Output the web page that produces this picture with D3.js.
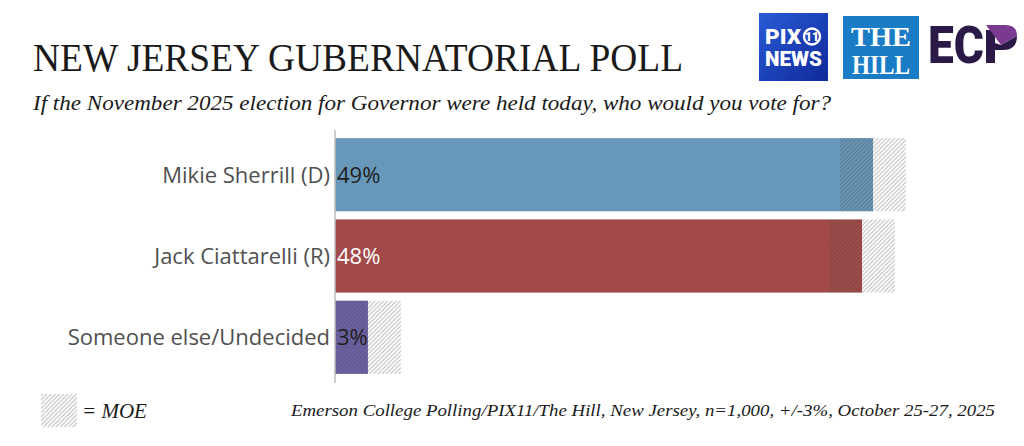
<!DOCTYPE html>
<html>
<head>
<meta charset="utf-8">
<script src="https://cdn.jsdelivr.net/npm/d3@7"></script>
<style>
  html, body { margin: 0; padding: 0; background: #fff; }
  svg { display: block; }
</style>
</head>
<body>
<svg id="chart" width="1024" height="446"></svg>
<script>
const categories = ["Mikie Sherrill (D)", "Jack Ciattarelli (R)", "Someone else/Undecided"];
const values = [49, 48, 3];
const valueLabels = ["49%", "48%", "3%"];
const moe = 3;
const barColors = ["#6898b9", "#a24a4a", "#6c62a6"];
const labelColors = ["#1e1e1e", "#ffffff", "#1e1e1e"];

const title = "NEW JERSEY GUBERNATORIAL POLL";
const subtitle = "If the November 2025 election for Governor were held today, who would you vote for?";
const source = "Emerson College Polling/PIX11/The Hill, New Jersey, n=1,000, +/-3%, October 25-27, 2025";

const svg = d3.select("#chart");
const defs = svg.append("defs");

const pat = defs.append("pattern")
  .attr("id", "hatch").attr("patternUnits", "userSpaceOnUse")
  .attr("width", 4.2).attr("height", 4.2);
pat.append("path")
  .attr("d", "M-1,1 l2,-2 M0,4.2 l4.2,-4.2 M3.2,5.2 l2,-2")
  .attr("stroke", "rgba(60,60,60,0.38)").attr("stroke-width", 1);

const grad = defs.append("linearGradient").attr("id", "pixgrad")
  .attr("x1", 0).attr("y1", 0).attr("x2", 1).attr("y2", 1);
grad.append("stop").attr("offset", "0%").attr("stop-color", "#2a5bd6");
grad.append("stop").attr("offset", "100%").attr("stop-color", "#0f2a9a");

const x = d3.scaleLinear().domain([0, 50]).range([335, 884]);
const y = d3.scaleBand().domain(categories).range([130, 382]).paddingInner(0.1).paddingOuter(0.1);

// Title and subtitle
svg.append("text").attr("x", 33).attr("y", 71)
  .attr("font-family", "Liberation Serif, serif").attr("font-size", 40)
  .attr("fill", "#1a1a1a").attr("textLength", 650).attr("lengthAdjust", "spacingAndGlyphs")
  .text(title);
svg.append("text").attr("x", 33).attr("y", 110)
  .attr("font-family", "Liberation Serif, serif").attr("font-style", "italic").attr("font-size", 22)
  .attr("fill", "#1a1a1a").attr("textLength", 798).attr("lengthAdjust", "spacingAndGlyphs")
  .text(subtitle);

// Bars
const g = svg.append("g");
g.selectAll("rect.bar").data(values).join("rect")
  .attr("class", "bar")
  .attr("x", x(0))
  .attr("y", (d, i) => y(categories[i]))
  .attr("width", d => x(d) - x(0))
  .attr("height", y.bandwidth())
  .attr("fill", (d, i) => barColors[i]);

g.selectAll("rect.moe").data(values).join("rect")
  .attr("class", "moe")
  .attr("x", d => x(Math.max(0, d - moe)))
  .attr("y", (d, i) => y(categories[i]))
  .attr("width", d => x(d + moe) - x(Math.max(0, d - moe)))
  .attr("height", y.bandwidth())
  .attr("fill", "url(#hatch)");

// Axis line
svg.append("line").attr("x1", x(0)).attr("x2", x(0)).attr("y1", 130).attr("y2", 383)
  .attr("stroke", "#bdbdbd").attr("stroke-width", 1.5);

// Category labels
g.selectAll("text.cat").data(categories).join("text")
  .attr("class", "cat")
  .attr("x", x(0) - 5)
  .attr("y", d => y(d) + y.bandwidth() / 2)
  .attr("dy", "0.36em")
  .attr("text-anchor", "end")
  .attr("font-family", "Open Sans, sans-serif").attr("font-weight", 400).attr("font-size", 22)
  .attr("fill", "#505050")
  .text(d => d);

// Value labels
g.selectAll("text.val").data(values).join("text")
  .attr("class", "val")
  .attr("x", x(0) + 2)
  .attr("y", (d, i) => y(categories[i]) + y.bandwidth() / 2)
  .attr("dy", "0.36em")
  .attr("font-family", "Open Sans, sans-serif").attr("font-weight", 400).attr("font-size", 22)
  .attr("fill", (d, i) => labelColors[i])
  .text((d, i) => valueLabels[i]);

// Legend
svg.append("rect").attr("x", 41).attr("y", 394).attr("width", 36).attr("height", 33)
  .attr("fill", "url(#hatch)");
svg.append("text").attr("x", 82).attr("y", 418)
  .attr("font-family", "Liberation Serif, serif").attr("font-style", "italic").attr("font-size", 21)
  .attr("fill", "#1a1a1a").text("= MOE");

// Source
svg.append("text").attr("x", 291).attr("y", 416)
  .attr("font-family", "Liberation Serif, serif").attr("font-style", "italic").attr("font-size", 17)
  .attr("fill", "#1a1a1a").attr("textLength", 704).attr("lengthAdjust", "spacingAndGlyphs")
  .text(source);

// Logos
const pix = svg.append("g");
pix.append("rect").attr("x", 759).attr("y", 13).attr("width", 69).attr("height", 68).attr("fill", "url(#pixgrad)");
pix.append("text").attr("x", 765).attr("y", 44).attr("font-family", "Roboto, sans-serif").attr("font-weight", 900)
  .attr("font-size", 21).attr("fill", "#fff").attr("textLength", 36).attr("lengthAdjust", "spacingAndGlyphs").text("PIX");
pix.append("circle").attr("cx", 812).attr("cy", 36.5).attr("r", 8).attr("fill", "none").attr("stroke", "#fff").attr("stroke-width", 2.4);
pix.append("text").attr("x", 812).attr("y", 41).attr("text-anchor", "middle").attr("font-family", "Roboto, sans-serif")
  .attr("font-weight", 900).attr("font-size", 12).attr("fill", "#fff").text("11");
pix.append("text").attr("x", 765).attr("y", 66).attr("font-family", "Roboto, sans-serif").attr("font-weight", 900)
  .attr("font-size", 21).attr("fill", "#fff").attr("textLength", 57).attr("lengthAdjust", "spacingAndGlyphs").text("NEWS");

const hill = svg.append("g");
hill.append("rect").attr("x", 843).attr("y", 16).attr("width", 76).attr("height", 63).attr("fill", "#1b7cc6");
hill.append("text").attr("x", 881).attr("y", 46).attr("text-anchor", "middle").attr("font-family", "Liberation Serif, serif")
  .attr("font-weight", "bold").attr("font-size", 27).attr("fill", "#fff")
  .attr("textLength", 60).attr("lengthAdjust", "spacingAndGlyphs").text("THE");
hill.append("text").attr("x", 881).attr("y", 74).attr("text-anchor", "middle").attr("font-family", "Liberation Serif, serif")
  .attr("font-weight", "bold").attr("font-size", 27).attr("fill", "#fff")
  .attr("textLength", 58).attr("lengthAdjust", "spacingAndGlyphs").text("HILL");

const ecp = svg.append("g");
ecp.append("text").attr("x", 928).attr("y", 63).attr("font-family", "Roboto, sans-serif").attr("font-weight", 900)
  .attr("font-size", 52).attr("fill", "#2b1a48").attr("textLength", 56).attr("lengthAdjust", "spacingAndGlyphs").text("EC");
ecp.append("rect").attr("x", 986).attr("y", 30).attr("width", 9).attr("height", 33).attr("fill", "#2b1a48");
ecp.append("path").attr("d", "M986,25 L1005,25 Q1017,25 1017,36 L1001,45 Z").attr("fill", "#7a3a90");
ecp.append("path").attr("d", "M1017,36 Q1017,50 1003,50 L995,50 L995,43 L1001,45 Z").attr("fill", "#2b1a48");
</script>
</body>
</html>
